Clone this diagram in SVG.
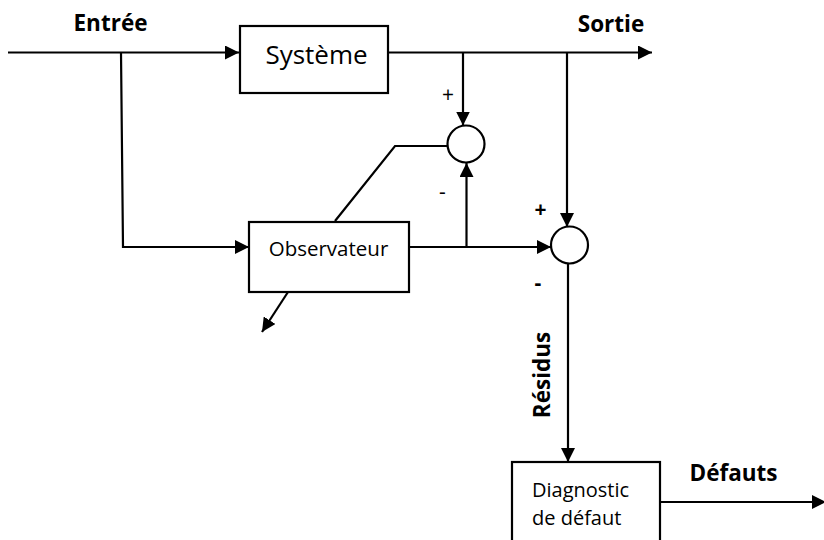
<svg xmlns="http://www.w3.org/2000/svg" width="824" height="540" viewBox="0 0 824 540">
<defs>
<marker id="ah" viewBox="0 0 10 10" refX="10" refY="5" markerWidth="14" markerHeight="14" markerUnits="userSpaceOnUse" orient="auto">
<path d="M0,0 L10,5 L0,10 z" fill="#000"/>
</marker>
<style>
.ln{fill:none;stroke:#000;stroke-width:2.2}
.bx{fill:#fff;stroke:#000;stroke-width:2.2}
.t{font-family:"Open Sans","Noto Sans","DejaVu Sans",sans-serif;fill:#000}
.b{font-weight:bold;font-size:22.5px}
</style>
</defs>
<rect width="824" height="540" fill="#fff"/>
<g id="connectors">
<path class="ln" d="M8,52.5 H239" marker-end="url(#ah)"/>
<path class="ln" d="M388,52.5 H652" marker-end="url(#ah)"/>
<path class="ln" d="M121,52.5 L123,247 H249" marker-end="url(#ah)"/>
<path class="ln" d="M463,52.5 V125.5" marker-end="url(#ah)"/>
<path class="ln" d="M567,52.5 V227" marker-end="url(#ah)"/>
<path class="ln" d="M409,247 H551" marker-end="url(#ah)"/>
<path class="ln" d="M466.5,247 V163" marker-end="url(#ah)"/>
<path class="ln" d="M447.5,146 H395 L335,221"/>
<path class="ln" d="M288,292 L262,332" marker-end="url(#ah)"/>
<path class="ln" d="M568,263 V462" marker-end="url(#ah)"/>
<path class="ln" d="M660,502 H826" marker-end="url(#ah)"/>
</g>
<g id="systeme">
<rect class="bx" x="240" y="26" width="148" height="67"/>
<text class="t" x="316.5" y="64" font-size="26" text-anchor="middle">Système</text>
</g>
<g id="observateur">
<rect class="bx" x="249" y="222" width="160" height="70"/>
<text class="t" x="328.5" y="256" font-size="20.5" text-anchor="middle">Observateur</text>
</g>
<g id="sum1">
<circle class="bx" cx="466" cy="144" r="18.5"/>
</g>
<g id="sum2">
<circle class="bx" cx="569.5" cy="245" r="18.5"/>
</g>
<g id="diagnostic">
<rect class="bx" x="512" y="462" width="148" height="90"/>
<text class="t" x="532" y="497" font-size="20">Diagnostic</text>
<text class="t" x="532" y="525" font-size="20">de défaut</text>
</g>
<g id="labels">
<text class="t b" x="110.5" y="31" text-anchor="middle">Entrée</text>
<text class="t b" x="611" y="32" text-anchor="middle">Sortie</text>
<text class="t b" x="733.5" y="481" font-size="22" text-anchor="middle">Défauts</text>
<text class="t b" transform="translate(550,375) rotate(-90)" text-anchor="middle">Résidus</text>
<text class="t" x="448" y="102" font-size="21" text-anchor="middle">+</text>
<text class="t" x="442.5" y="199" font-size="21" text-anchor="middle">-</text>
<text class="t" x="540.5" y="217" font-size="21" font-weight="bold" text-anchor="middle">+</text>
<text class="t" x="538" y="290" font-size="21" font-weight="bold" text-anchor="middle">-</text>
</g>
</svg>
